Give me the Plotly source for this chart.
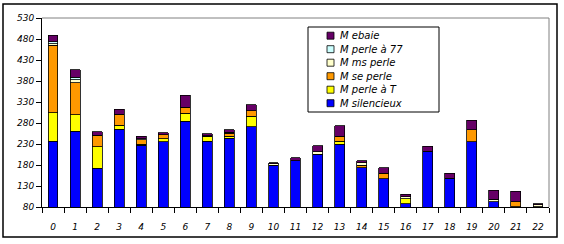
import plotly.graph_objects as go

categories = [str(i) for i in range(23)]

silencieux = [237, 260, 172, 265, 227, 235, 284, 236, 244, 271, 180, 190, 206, 229, 174, 147, 88, 213, 148, 235, 93, 81, 80.5]
perle_a_T = [68, 40, 51, 9.5, 3, 7, 19, 12, 5, 25, 0, 0, 0, 8, 0, 0, 12, 0, 0, 0, 0, 0, 0]
se_perle = [160, 76, 28, 26, 10, 9.5, 14, 0, 6.5, 13, 0, 0, 0, 12, 5.5, 13.5, 0, 0, 0, 29, 0, 12, 0]
ms_perle = [4, 7, 0, 0, 2, 0, 0, 2, 3, 0, 3, 0, 5, 0, 5.5, 0, 4.5, 0, 0, 0, 6, 0, 5]
perle_a_77 = [5, 6, 0, 0, 0, 0, 0, 0, 0, 0, 0, 0, 0, 0, 0, 0, 0, 0, 0, 0, 0, 0, 0]
ebaie = [15, 18, 8, 12.6, 6.4, 5.5, 29, 5, 5, 15, 2, 7, 15, 24, 5, 13.5, 6.4, 12, 12.7, 22.4, 21.4, 24, 2]

series = [
    ("M silencieux", silencieux, "#0000FF"),
    ("M perle à T", perle_a_T, "#FFFF00"),
    ("M se perle", se_perle, "#FF9900"),
    ("M ms perle", ms_perle, "#FFFFCC"),
    ("M perle à 77", perle_a_77, "#CCFFFF"),
    ("M ebaie", ebaie, "#660066"),
]

y_ticks = [80, 130, 180, 230, 280, 330, 380, 430, 480, 530]

W, H = 564, 244
ML, MR, MT, MB = 42, 15, 18, 37
PW, PH = W - ML - MR, H - MT - MB


def px_x(px):
    return (px - ML) / PW


def px_y(py):
    return (H - MB - py) / PH


fig = go.Figure()
for name, vals, col in series:
    fig.add_trace(go.Bar(
        x=categories, y=vals, name=name,
        marker=dict(color=col, line=dict(color="black", width=0.8)),
        width=0.45,
    ))

font = dict(family="DejaVu Sans", size=9, color="black", style="italic")

shapes = [
    dict(type="line", xref="paper", yref="paper", x0=0, x1=1, y0=1, y1=1,
         line=dict(color="#808080", width=1)),
    dict(type="line", xref="paper", yref="paper", x0=1, x1=1, y0=0, y1=1,
         line=dict(color="#808080", width=1)),
    dict(type="rect", xref="paper", yref="paper",
         x0=px_x(3), x1=px_x(557), y0=px_y(237), y1=px_y(4),
         line=dict(color="black", width=1.5)),
    # legend box
    dict(type="rect", xref="paper", yref="paper",
         x0=px_x(308), x1=px_x(439), y0=px_y(112), y1=px_y(27),
         line=dict(color="black", width=1), fillcolor="white", layer="above"),
]
annotations = []
for i, (name, vals, col) in enumerate(reversed(series)):
    cy = 35.7 + i * 13.5
    shapes.append(dict(type="rect", xref="paper", yref="paper",
                       x0=px_x(327), x1=px_x(334), y0=px_y(cy + 3.5), y1=px_y(cy - 3.5),
                       fillcolor=col, line=dict(color="black", width=0.8), layer="above"))
    annotations.append(dict(xref="paper", yref="paper", x=px_x(338), y=px_y(cy),
                            xanchor="left", yanchor="middle", showarrow=False,
                            text=name, font=dict(family="DejaVu Sans", size=10,
                                                 color="black", style="italic")))

fig.update_layout(
    width=W, height=H,
    margin=dict(l=ML, r=MR, t=MT, b=MB),
    barmode="stack",
    paper_bgcolor="white", plot_bgcolor="white",
    font=font,
    showlegend=False,
    xaxis=dict(
        type="category", showgrid=False,
        showline=True, linecolor="black", linewidth=1,
        ticks="outside", ticklen=5, tickcolor="black", tickson="boundaries",
        ticklabelstandoff=11, tickangle=0,
        tickfont=font,
    ),
    yaxis=dict(
        range=[80, 530], showgrid=False,
        showline=True, linecolor="black", linewidth=1,
        ticks="outside", ticklen=5, tickcolor="black",
        tickvals=y_ticks, ticktext=[str(v) for v in y_ticks],
        tickfont=font,
    ),
    shapes=shapes,
    annotations=annotations,
)

fig.write_html("out.html")
